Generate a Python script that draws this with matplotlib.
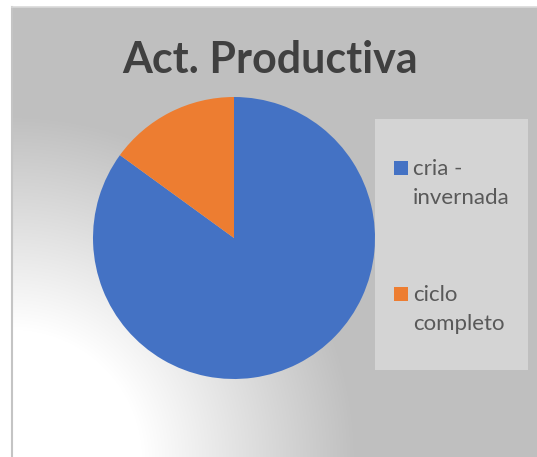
import numpy as np
import matplotlib
matplotlib.use("Agg")
import matplotlib.pyplot as plt
from matplotlib.patches import Rectangle

# ---- data ----
title = "Act. Productiva"
labels = ["cria -\ninvernada", "ciclo\ncompleto"]
values = [85, 15]
colors = ["#4472C4", "#ED7D31"]

W, H = 537, 457
DPI = 100
fig = plt.figure(figsize=(W / DPI, H / DPI), dpi=DPI, facecolor="white")

def fx(px):
    return px / W

def fy(py):
    return 1 - py / H

# ---- background with radial gradient ----
x0, y0 = 12, 7
bg = fig.add_axes([fx(x0), 0, 1 - fx(x0), fy(y0)])
bg.set_axis_off()
xs = np.arange(x0, W) + 0.5
ys = np.arange(y0, H) + 0.5
X, Y = np.meshgrid(xs, ys)
r = np.hypot((X - 12) / 1.0, (Y - 460) / 1.0)
t = np.clip((r - 130) / 215, 0, 1)
val = 255 - t * (255 - 191)
img = np.dstack([val, val, val]) / 255.0
bg.imshow(img, extent=[0, 1, 0, 1], aspect="auto", origin="upper", interpolation="bilinear")
bg.set_xlim(0, 1)
bg.set_ylim(0, 1)

# border lines
fig.add_artist(plt.Line2D([fx(11.5), fx(11.5)], [0, fy(6.5)], color="#c4c4c4", lw=1.5))
fig.add_artist(plt.Line2D([fx(11.5), 1], [fy(6.5), fy(6.5)], color="#d9d9d9", lw=1.2))

# ---- pie ----
cx, cy, R = 234, 238, 141
ax = fig.add_axes([fx(cx - R), fy(cy + R), 2 * R / W, 2 * R / H])
ax.pie(values, colors=colors, startangle=90, counterclock=False, radius=1,
       wedgeprops=dict(linewidth=0))
ax.set_xlim(-1, 1)
ax.set_ylim(-1, 1)
ax.set_aspect("auto")
ax.set_axis_off()

# ---- title ----
fig.text(fx(270), fy(73), title, ha="center", va="baseline", fontsize=31,
         fontweight="bold", color="#404040", family=["Lato", "DejaVu Sans"])

# ---- legend ----
lx0, ly0, lx1, ly1 = 375, 119, 528, 370
fig.add_artist(Rectangle((fx(lx0), fy(ly1)), fx(lx1) - fx(lx0), fy(ly0) - fy(ly1),
                         transform=fig.transFigure, facecolor="#d4d4d4", edgecolor="none"))
entry_top = [175, 301]  # baseline of first line of each entry
for lab, col, b in zip(labels, colors, entry_top):
    fig.add_artist(Rectangle((fx(394), fy(b)), fx(13.5), fy(0) - fy(14),
                             transform=fig.transFigure, facecolor=col, edgecolor="none"))
    for i, line in enumerate(lab.split("\n")):
        fig.text(fx(413), fy(b + 29.5 * i), line, ha="left", va="baseline",
                 fontsize=16, color="#595959", family=["Lato", "DejaVu Sans"])

fig.savefig("out.png", dpi=DPI, facecolor="white")
